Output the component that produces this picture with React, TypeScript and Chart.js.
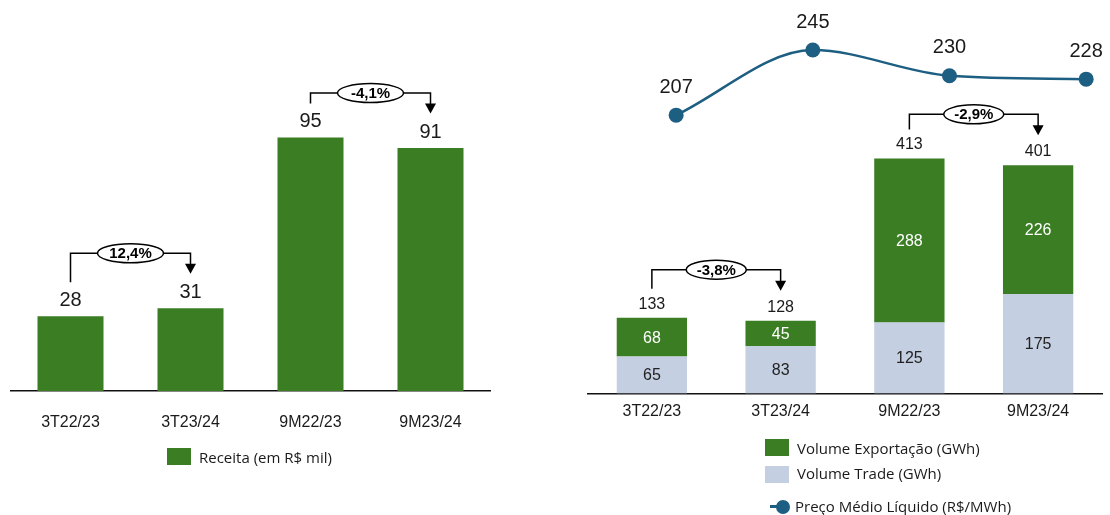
import { useEffect, useRef } from "react";
import { Chart, registerables } from "chart.js";

Chart.register(...registerables);

// Period labels shared by both panels
const categories = ["3T22/23", "3T23/24", "9M22/23", "9M23/24"];

// Left panel: revenue (R$ mil)
const receita = [28, 31, 95, 91];
const receitaChanges = ["12,4%", "-4,1%"];

// Right panel: volumes (GWh) and average net price (R$/MWh)
const volumeTrade = [65, 83, 125, 175];
const volumeExportacao = [68, 45, 288, 226];
const volumeChanges = ["-3,8%", "-2,9%"];
const precoMedio = [207, 245, 230, 228];

const GREEN = "#3A7D23";
const TRADE = "#C4CFE2";
const LINE = "#1D5F82";
const INK = "#1a1a1a";
const ARIAL = "'Liberation Sans', Arial, sans-serif";
const LEGEND_FONT = "'Open Sans', 'Noto Sans', sans-serif";

// Elbow connector with a rounded percentage badge between two bars
function drawBracket(
  ctx: CanvasRenderingContext2D,
  x1: number,
  yStart: number,
  x2: number,
  yLine: number,
  yTip: number,
  text: string,
  rx: number,
  ry: number
) {
  ctx.save();
  ctx.strokeStyle = "#000";
  ctx.lineWidth = 1.5;
  ctx.beginPath();
  ctx.moveTo(x1, yStart);
  ctx.lineTo(x1, yLine);
  ctx.lineTo(x2, yLine);
  ctx.lineTo(x2, yTip - 9);
  ctx.stroke();

  ctx.fillStyle = "#000";
  ctx.beginPath();
  ctx.moveTo(x2 - 5.5, yTip - 10);
  ctx.lineTo(x2 + 5.5, yTip - 10);
  ctx.lineTo(x2, yTip);
  ctx.closePath();
  ctx.fill();

  const cx = (x1 + x2) / 2;
  ctx.beginPath();
  ctx.ellipse(cx, yLine, rx, ry, 0, 0, Math.PI * 2);
  ctx.fillStyle = "#fff";
  ctx.fill();
  ctx.stroke();

  ctx.fillStyle = "#000";
  ctx.font = `bold 15px ${ARIAL}`;
  ctx.textAlign = "center";
  ctx.textBaseline = "middle";
  ctx.fillText(text, cx, yLine + 1);
  ctx.restore();
}

const receitaLabels = {
  id: "receitaLabels",
  afterDatasetsDraw(chart: any) {
    const { ctx } = chart;
    const xs = chart.scales.x;
    const ys = chart.scales.y;
    const labelY = receita.map((v) => ys.getPixelForValue(v) - 16);
    ctx.save();
    ctx.font = `20px ${ARIAL}`;
    ctx.fillStyle = INK;
    ctx.textAlign = "center";
    ctx.textBaseline = "middle";
    receita.forEach((v, i) => ctx.fillText(String(v), xs.getPixelForValue(i), labelY[i]));
    ctx.restore();
    receitaChanges.forEach((txt, k) => {
      const a = 2 * k;
      const b = 2 * k + 1;
      drawBracket(
        ctx,
        xs.getPixelForValue(a),
        labelY[a] - 18,
        xs.getPixelForValue(b),
        labelY[b] - 39,
        labelY[b] - 18.5,
        txt,
        33,
        9.5
      );
    });
  },
};

const volumeLabels = {
  id: "volumeLabels",
  afterDatasetsDraw(chart: any) {
    const { ctx } = chart;
    const xs = chart.scales.x;
    const ys = chart.scales.y;
    const x2 = chart.scales.x2;
    const y2 = chart.scales.y2;
    const totals = volumeTrade.map((v, i) => v + volumeExportacao[i]);
    const totalY = totals.map((t) => ys.getPixelForValue(t) - 13.5);

    ctx.save();
    ctx.textAlign = "center";
    ctx.textBaseline = "middle";
    ctx.font = `16px ${ARIAL}`;
    categories.forEach((_, i) => {
      const x = xs.getPixelForValue(i);
      const base = ys.getPixelForValue(0);
      const mid = ys.getPixelForValue(volumeTrade[i]);
      const top = ys.getPixelForValue(totals[i]);
      ctx.fillStyle = "#222";
      ctx.fillText(String(volumeTrade[i]), x, (base + mid) / 2 + 1);
      ctx.fillStyle = "#fff";
      ctx.fillText(String(volumeExportacao[i]), x, (mid + top) / 2 + 1);
      ctx.fillStyle = INK;
      ctx.fillText(String(totals[i]), x, totalY[i]);
    });

    ctx.font = `20px ${ARIAL}`;
    ctx.fillStyle = INK;
    precoMedio.forEach((v, i) => {
      ctx.fillText(String(v), x2.getPixelForValue(i), y2.getPixelForValue(v) - 28);
    });
    ctx.restore();

    volumeChanges.forEach((txt, k) => {
      const a = 2 * k;
      const b = 2 * k + 1;
      drawBracket(
        ctx,
        xs.getPixelForValue(a),
        totalY[a] - 15.5,
        xs.getPixelForValue(b),
        totalY[b] - 37.5,
        totalY[b] - 16.5,
        txt,
        30,
        9.5
      );
    });
  },
};

const xAxisBase = (padding: number, height: number) => ({
  grid: { display: false, drawTicks: false },
  border: { display: true, color: "#111", width: 1.5 },
  ticks: {
    color: INK,
    font: { family: ARIAL, size: 16 },
    padding,
    maxRotation: 0,
    autoSkip: false,
  },
  afterFit(scale: any) {
    scale.height = height;
  },
});

function ReceitaChart() {
  const ref = useRef<HTMLCanvasElement>(null);
  useEffect(() => {
    if (!ref.current) return;
    const chart = new Chart(ref.current, {
      type: "bar",
      data: {
        labels: categories,
        datasets: [
          {
            label: "Receita (em R$ mil)",
            data: receita,
            backgroundColor: GREEN,
            barPercentage: 0.55,
            categoryPercentage: 1,
          },
        ],
      },
      options: {
        responsive: false,
        animation: false,
        layout: { padding: { left: 10.5, right: 9.5, top: 44, bottom: 0 } },
        plugins: { legend: { display: false }, tooltip: { enabled: false } },
        scales: {
          x: xAxisBase(21.5, 69) as any,
          y: { display: false, min: 0, max: 130 },
        },
      },
      plugins: [receitaLabels],
    });
    return () => chart.destroy();
  }, []);
  return (
    <canvas
      ref={ref}
      width={500}
      height={460}
      style={{ position: "absolute", left: 0, top: 0, width: 500, height: 460 }}
    />
  );
}

function VolumeChart() {
  const ref = useRef<HTMLCanvasElement>(null);
  useEffect(() => {
    if (!ref.current) return;
    const chart = new Chart(ref.current, {
      type: "bar",
      data: {
        labels: categories,
        datasets: [
          {
            label: "Volume Trade (GWh)",
            data: volumeTrade,
            backgroundColor: TRADE,
            barPercentage: 0.546,
            categoryPercentage: 1,
            grouped: false,
            stack: "volume",
            order: 1,
          },
          {
            label: "Volume Exportação (GWh)",
            data: volumeExportacao,
            backgroundColor: GREEN,
            barPercentage: 0.546,
            categoryPercentage: 1,
            grouped: false,
            stack: "volume",
            order: 1,
          },
          {
            type: "line",
            label: "Preço Médio Líquido (R$/MWh)",
            data: precoMedio.map((v, i) => ({ x: i, y: v })),
            xAxisID: "x2",
            yAxisID: "y2",
            borderColor: LINE,
            borderWidth: 2.5,
            backgroundColor: LINE,
            pointRadius: 7.5,
            pointBorderWidth: 0,
            pointBackgroundColor: LINE,
            cubicInterpolationMode: "monotone",
            clip: false,
            order: 0,
          } as any,
        ],
      },
      options: {
        responsive: false,
        animation: false,
        layout: { padding: { left: 27.5, right: 2.5, top: 18, bottom: 0 } },
        plugins: { legend: { display: false }, tooltip: { enabled: false } },
        scales: {
          x: { ...(xAxisBase(8, 66.5) as any), stacked: true },
          y: { display: false, stacked: true, min: 0, max: 660 },
          x2: {
            type: "linear",
            display: false,
            offset: false,
            grid: { offset: false },
            bounds: "data",
            min: -0.6486,
            max: 3.1196,
          },
          y2: { type: "linear", display: false, min: 44.47, max: 263.71 },
        },
      },
      plugins: [volumeLabels],
    });
    return () => chart.destroy();
  }, []);
  return (
    <canvas
      ref={ref}
      width={550}
      height={460}
      style={{ position: "absolute", left: 560, top: 0, width: 550, height: 460 }}
    />
  );
}

const legendText: React.CSSProperties = {
  position: "absolute",
  fontFamily: LEGEND_FONT,
  fontSize: 15,
  color: INK,
  lineHeight: "20px",
  whiteSpace: "nowrap",
};

function swatch(left: number, top: number, color: string): React.CSSProperties {
  return { position: "absolute", left, top, width: 24, height: 17, background: color };
}

export default function App() {
  return (
    <div
      style={{
        position: "absolute",
        left: 0,
        top: 0,
        width: 1110,
        height: 515,
        background: "#fff",
        overflow: "hidden",
      }}
    >
      <ReceitaChart />
      <VolumeChart />

      <div style={swatch(167, 448, GREEN)} />
      <div style={{ ...legendText, left: 199, top: 447 }}>Receita (em R$ mil)</div>

      <div style={swatch(765, 439, GREEN)} />
      <div style={{ ...legendText, left: 797, top: 438 }}>Volume Exportação (GWh)</div>
      <div style={swatch(765, 466, TRADE)} />
      <div style={{ ...legendText, left: 797, top: 463 }}>Volume Trade (GWh)</div>
      <div
        style={{ position: "absolute", left: 770, top: 505, width: 9, height: 3, background: LINE }}
      />
      <div
        style={{
          position: "absolute",
          left: 776,
          top: 499.5,
          width: 14,
          height: 14,
          borderRadius: "50%",
          background: LINE,
        }}
      />
      <div style={{ ...legendText, left: 795, top: 496 }}>Preço Médio Líquido (R$/MWh)</div>
    </div>
  );
}
